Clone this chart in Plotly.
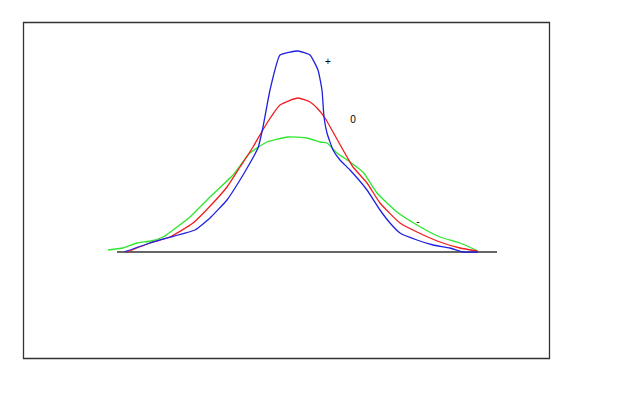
import plotly.graph_objects as go

# x: horizontal position (centred on the peak), y: height above baseline
blue_x = [-173, -148, -131, -103, -88, -71, -58, -48, -40, -35, -28, -18, 0, 12, 20, 24, 26, 29, 35, 42, 52, 69, 82, 92, 102, 119, 135, 152, 165, 180]
blue_y = [0.3, 9, 14, 22, 34, 52, 72, 89, 104, 125, 162, 197, 201, 197, 182, 162, 135, 119, 102, 92, 82, 62, 42, 29, 19, 12, 7, 4, 0, 0]

red_x = [-171, -148, -128, -105, -85, -71, -58, -45, -31, -18, 0, 12, 19, 27, 35, 49, 55, 69, 82, 102, 119, 142, 162, 179]
red_y = [0, 9, 15, 29, 49, 65, 85, 105, 129, 147, 154, 150, 144, 134, 120, 95, 85, 69, 49, 29, 20, 10, 4, 1]

green_x = [-190, -175, -161, -147, -135, -125, -108, -88, -65, -48, -31, -10, 9, 22, 29, 39, 52, 65, 79, 99, 119, 142, 162, 180]
green_y = [2, 4, 9, 11, 15, 22, 35, 55, 77, 99, 110, 115, 114, 110, 109, 99, 90, 80, 59, 40, 27, 15, 9, 1]

baseline_x = [-181, 199]
baseline_y = [0, 0]

labels = ["+", "0", "-"]
label_x = [30, 55, 120]
label_y = [190, 132, 30]

fig = go.Figure()
fig.add_trace(go.Scatter(x=baseline_x, y=baseline_y, mode="lines",
                         line=dict(color="#333333", width=1.5), hoverinfo="skip"))
fig.add_trace(go.Scatter(x=green_x, y=green_y, mode="lines",
                         line=dict(color="#2ee62e", width=1.3, shape="spline", smoothing=0.5)))
fig.add_trace(go.Scatter(x=red_x, y=red_y, mode="lines",
                         line=dict(color="#f01e1e", width=1.3, shape="spline", smoothing=0.5)))
fig.add_trace(go.Scatter(x=blue_x, y=blue_y, mode="lines",
                         line=dict(color="#2020e0", width=1.3, shape="spline", smoothing=0.4)))
fig.add_trace(go.Scatter(x=label_x, y=label_y, mode="text", text=labels,
                         textfont=dict(family="Liberation Sans", size=10, color="#000000")))

fig.add_shape(type="rect", xref="paper", yref="paper",
              x0=23.5/624, x1=549.5/624, y0=1-358.5/393, y1=1-22.5/393,
              line=dict(color="#333333", width=1.3))

fig.update_layout(
    width=624, height=393, margin=dict(l=0, r=0, t=0, b=0),
    paper_bgcolor="white", plot_bgcolor="white", showlegend=False,
    xaxis=dict(range=[-298, 326], visible=False, fixedrange=True),
    yaxis=dict(range=[-141, 252], visible=False, fixedrange=True),
)
fig.write_html("out.html")
